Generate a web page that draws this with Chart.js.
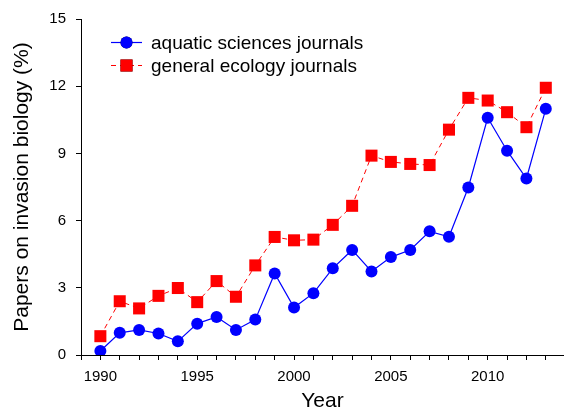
<!DOCTYPE html>
<html>
<head>
<meta charset="utf-8">
<script src="https://cdn.jsdelivr.net/npm/chart.js@4.4.1/dist/chart.umd.min.js"></script>
<style>
  body { margin: 0; background: #fff; }
  #chart { display: block; }
</style>
</head>
<body>
<canvas id="chart" width="564" height="414"></canvas>
<script>
const years = [1990, 1991, 1992, 1993, 1994, 1995, 1996, 1997, 1998, 1999, 2000, 2001,
               2002, 2003, 2004, 2005, 2006, 2007, 2008, 2009, 2010, 2011, 2012, 2013];
const aquatic = [0.18, 0.99, 1.12, 0.96, 0.61, 1.40, 1.70, 1.12, 1.58, 3.64, 2.12, 2.76,
                 3.87, 4.69, 3.73, 4.37, 4.69, 5.52, 5.28, 7.48, 10.59, 9.12, 7.88, 10.99];
const ecology = [0.84, 2.40, 2.08, 2.64, 2.99, 2.36, 3.30, 2.60, 4.00, 5.27, 5.12, 5.15,
                 5.81, 6.66, 8.90, 8.62, 8.53, 8.48, 10.06, 11.48, 11.36, 10.84, 10.17, 11.93];
const seriesNames = ['aquatic sciences journals', 'general ecology journals'];
const xTickValues = [1989, 1990, 1991, 1992, 1993, 1994, 1995, 1996, 1997, 1998, 1999, 2000, 2001,
                     2002, 2003, 2004, 2005, 2006, 2007, 2008, 2009, 2010, 2011, 2012, 2013];
const xTickLabels = [1990, 1995, 2000, 2005, 2010];
const yTicks = [0, 3, 6, 9, 12, 15];

const FONT = "'Liberation Sans', Arial, sans-serif";

// legend drawn inside the plot, line + marker like the original
const insideLegend = {
    id: 'insideLegend',
    afterDraw(chart) {
        const ctx = chart.ctx;
        const rows = [42.5, 65.5];
        chart.data.datasets.forEach((ds, i) => {
            const y = rows[i];
            ctx.save();
            ctx.strokeStyle = ds.borderColor;
            ctx.lineWidth = ds.borderWidth;
            ctx.setLineDash(ds.borderDash || []);
            ctx.beginPath();
            ctx.moveTo(111, y);
            ctx.lineTo(142, y);
            ctx.stroke();
            ctx.setLineDash([]);
            Chart.helpers.drawPoint(ctx, {
                pointStyle: ds.pointStyle,
                radius: ds.pointRadius,
                borderWidth: 0
            }, 126.5, y);
            ctx.fillStyle = ds.backgroundColor;
            ctx.fill();
            ctx.fillStyle = '#000';
            ctx.font = '19px ' + FONT;
            ctx.textAlign = 'left';
            ctx.textBaseline = 'middle';
            ctx.fillText(ds.label, 151, y + 1);
            ctx.restore();
        });
    }
};

new Chart(document.getElementById('chart'), {
    type: 'line',
    data: {
        datasets: [{
            label: seriesNames[0],
            data: years.map((yr, i) => ({ x: yr, y: aquatic[i] })),
            borderColor: '#0000ff',
            backgroundColor: '#0000ff',
            borderWidth: 1.2,
            pointStyle: 'circle',
            pointRadius: 6,
            pointBorderWidth: 0,
            tension: 0
        }, {
            label: seriesNames[1],
            data: years.map((yr, i) => ({ x: yr, y: ecology[i] })),
            borderColor: '#ff0000',
            backgroundColor: '#ff0000',
            borderWidth: 1,
            borderDash: [5, 4],
            pointStyle: 'rect',
            pointRadius: 8.5,
            pointBorderWidth: 0,
            tension: 0
        }]
    },
    options: {
        responsive: false,
        animation: false,
        layout: { autoPadding: false, padding: { top: 19, right: 0, left: 0, bottom: 0 } },
        plugins: {
            legend: { display: false },
            tooltip: { enabled: false }
        },
        scales: {
            x: {
                type: 'linear',
                min: 1989,
                max: 2013.94,
                afterFit: s => { s.height = 59; s.paddingRight = 0; s.paddingLeft = 0; },
                afterBuildTicks: s => { s.ticks = xTickValues.map(v => ({ value: v })); },
                grid: { drawOnChartArea: false, drawTicks: true, tickLength: 5, color: '#000' },
                border: { color: '#000', width: 1 },
                ticks: {
                    autoSkip: false,
                    maxRotation: 0,
                    padding: 8,
                    color: '#000',
                    font: { family: FONT, size: 15 },
                    callback: v => xTickLabels.includes(v) ? String(v) : ''
                },
                title: {
                    display: true,
                    text: 'Year',
                    color: '#000',
                    font: { family: FONT, size: 21 },
                    padding: { top: 0, bottom: 0 }
                }
            },
            y: {
                min: 0,
                max: 15,
                afterFit: s => { s.width = 81; },
                afterBuildTicks: s => { s.ticks = yTicks.map(v => ({ value: v })); },
                grid: { drawOnChartArea: false, drawTicks: true, tickLength: 5, color: '#000' },
                border: { color: '#000', width: 1 },
                ticks: {
                    padding: 10,
                    color: '#000',
                    font: { family: FONT, size: 15 }
                },
                title: {
                    display: true,
                    text: 'Papers on invasion biology (%)',
                    color: '#000',
                    font: { family: FONT, size: 21 },
                    padding: { top: 10, bottom: 0 }
                }
            }
        }
    },
    plugins: [insideLegend]
});
</script>
</body>
</html>
